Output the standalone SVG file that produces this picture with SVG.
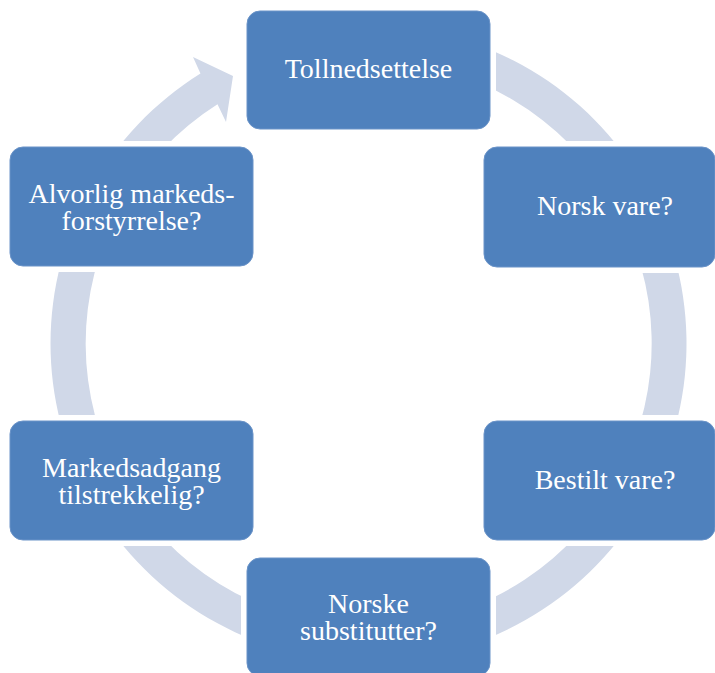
<svg xmlns="http://www.w3.org/2000/svg" width="715" height="673" viewBox="0 0 715 673">
  <style>
    .ring { fill: #D0D8E8; }
    .halo { fill: #FFFFFF; }
    .box { fill: #4F81BD; stroke: #6A93C8; stroke-width: 1; }
    .lbl { fill: #FFFFFF; font-family: "Liberation Serif", "Times New Roman", serif; font-size: 28px; text-anchor: middle; }
  </style>
  <rect width="715" height="673" fill="#FFFFFF"/>
  <g id="connectors">
    <path class="ring" d="M259.74,44.68 A318,318 0 1,1 200.46,73.53 L193,57 L233,76 L226,122 L217.5,104.2 A283,283 0 1,0 271.71,77.57 Z"/>
  </g>
  <g id="node-tollnedsettelse">
    <rect class="halo" x="241" y="5" width="255" height="130" rx="19"/>
    <rect class="box" x="247" y="11" width="243" height="118" rx="13"/>
    <text class="lbl" x="368.5" y="78">Tollnedsettelse</text>
  </g>
  <g id="node-norsk-vare">
    <rect class="halo" x="478" y="141" width="250" height="132" rx="19"/>
    <rect class="box" x="484" y="147" width="231" height="120" rx="13"/>
    <text class="lbl" x="605" y="214.5">Norsk vare?</text>
  </g>
  <g id="node-bestilt-vare">
    <rect class="halo" x="478" y="415" width="250" height="131" rx="19"/>
    <rect class="box" x="484" y="421" width="231" height="119" rx="13"/>
    <text class="lbl" x="605" y="488.5">Bestilt vare?</text>
  </g>
  <g id="node-norske-substitutter">
    <rect class="halo" x="241" y="552" width="255" height="130" rx="19"/>
    <rect class="box" x="247" y="558" width="243" height="118" rx="13"/>
    <text class="lbl" x="368.5" y="613">Norske</text>
    <text class="lbl" x="368.5" y="640">substitutter?</text>
  </g>
  <g id="node-markedsadgang">
    <rect class="halo" x="4" y="415" width="255" height="131" rx="19"/>
    <rect class="box" x="10" y="421" width="243" height="119" rx="13"/>
    <text class="lbl" x="131.5" y="477">Markedsadgang</text>
    <text class="lbl" x="131.5" y="503.5">tilstrekkelig?</text>
  </g>
  <g id="node-alvorlig">
    <rect class="halo" x="4" y="141" width="255" height="131" rx="19"/>
    <rect class="box" x="10" y="147" width="243" height="119" rx="13"/>
    <text class="lbl" x="131.5" y="203">Alvorlig markeds-</text>
    <text class="lbl" x="131.5" y="229.5">forstyrrelse?</text>
  </g>
</svg>
